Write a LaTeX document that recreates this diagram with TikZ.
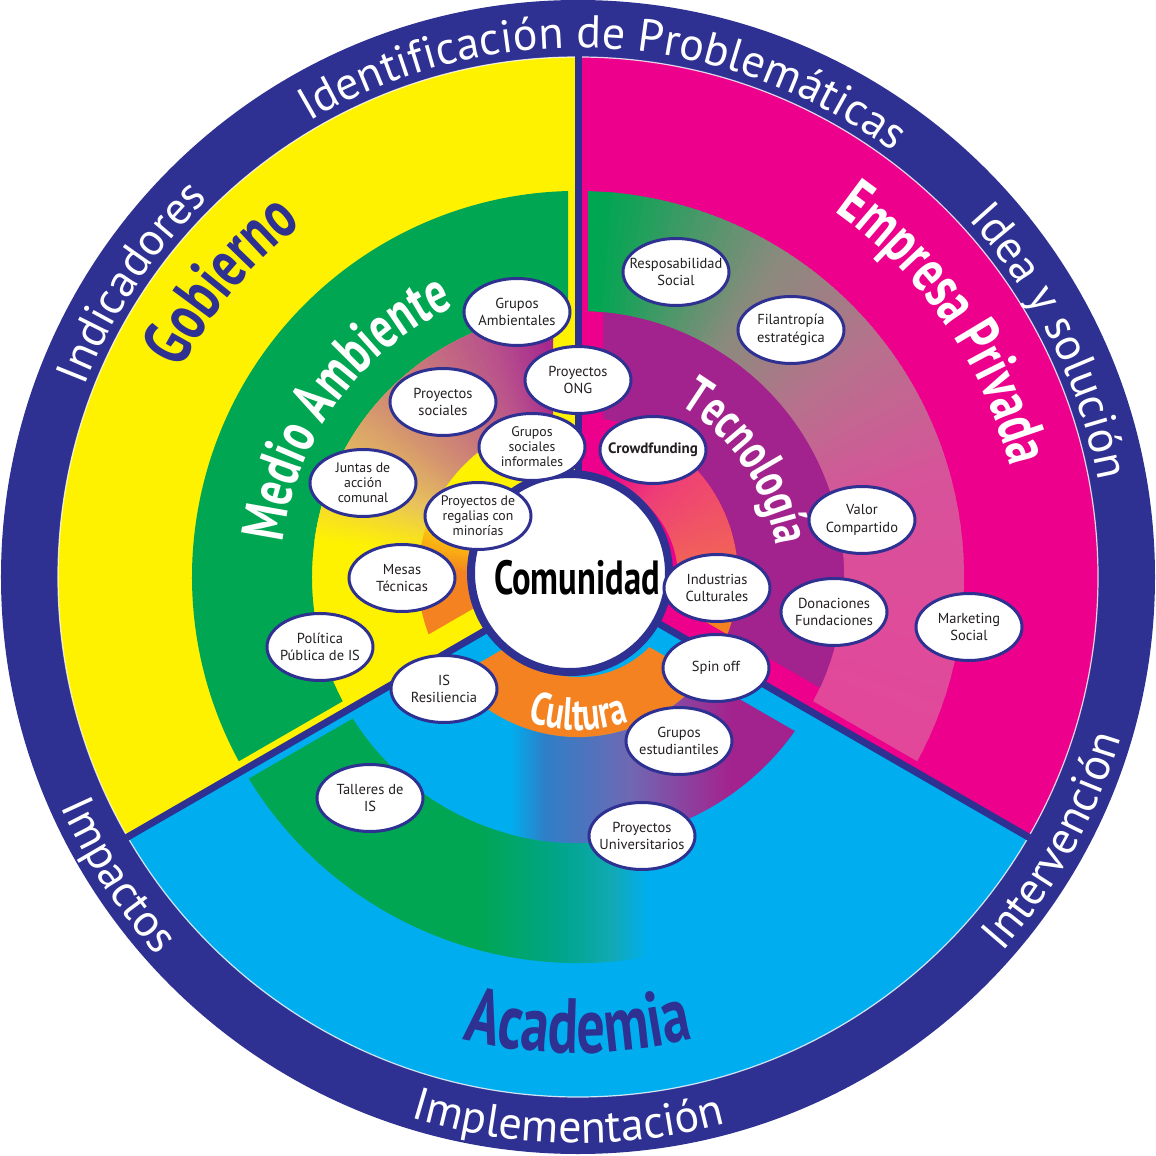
\documentclass[tikz,border=0pt]{standalone}
\usepackage{fontspec}
\setmainfont{PT Sans}
\newfontfamily\titlefont{PT Sans}[FakeStretch=0.72]
\usetikzlibrary{shapes.geometric, decorations.text}

\definecolor{navyring}{HTML}{2E3192}
\definecolor{gobyellow}{HTML}{FFF200}
\definecolor{empmagenta}{HTML}{EC008C}
\definecolor{acacyan}{HTML}{00AEEF}
\definecolor{ambgreen}{HTML}{00A651}
\definecolor{tecpurple}{HTML}{A3238E}
\definecolor{culorange}{HTML}{F58220}
\definecolor{tecmauve}{HTML}{B8508C}
\definecolor{tectan}{HTML}{D4946F}
\definecolor{tecsand}{HTML}{E9C35C}
\definecolor{empgrey}{HTML}{8A8B7D}
\definecolor{emppinkgrey}{HTML}{B7718C}
\definecolor{emppink}{HTML}{D8529A}
\definecolor{emprose}{HTML}{E6449A}
\definecolor{culpink}{HTML}{EE3D78}
\definecolor{culsalmon}{HTML}{F15E5C}
\definecolor{acateal}{HTML}{00A58C}
\definecolor{acaturq}{HTML}{12A9B5}
\definecolor{acablue}{HTML}{2E7FC7}
\definecolor{acaviolet}{HTML}{6F68B3}
\definecolor{bubbleink}{HTML}{231F20}

\newcommand{\ringfmt}{\fontsize{46}{46}\selectfont}
% annular sector: inner radius, outer radius, first angle, last angle
\newcommand{\annulus}[4]{(#3:#2) arc[start angle=#3, end angle=#4, radius=#2] -- (#4:#1) arc[start angle=#4, end angle=#3, radius=#1] -- cycle}
% colour fade along a ring, in thin slices
\newcommand{\ringfade}[6]{%
  \foreach \k in {0,...,23}{%
    \pgfmathsetmacro{\fa}{#3+(#4-#3)*\k/24}%
    \pgfmathsetmacro{\fb}{#3+(#4-#3)*(\k+1.4)/24}%
    \pgfmathsetmacro{\fp}{100-100*(\k+0.5)/24}%
    \fill[#5!\fp!#6] \annulus{#1}{#2}{\fa}{\fb};
  }}
% clip to a sector, kept a gap away from its borders
\newcommand{\sectorclip}[3]{%
  \pgfmathsetmacro{\midang}{(#1+#2)/2}%
  \pgfmathsetmacro{\apexr}{1.1547*#3}%
  \clip[shift={(\midang:\apexr)}] (0,0) -- (#1:1400) -- (#2:1400) -- cycle;}

\tikzset{
bubble/.style={ellipse, draw=navyring, line width=3pt, fill=white, minimum width=106pt, minimum height=67pt, inner sep=-10pt, align=center, text=bubbleink, font=\fontsize{14.5}{17.5}\selectfont}, % white ellipses
small/.style={font=\fontsize{13.8}{15}\selectfont}, % three line ellipses
divider/.style={navyring, line width=7pt}, % borders between the sectors
ringlabel/.style={decorate, decoration={text along path, text align=center, text color=white, text={|\ringfmt|#1}}}, % words in the outer ring
titlelabel/.style n args={3}{decorate, decoration={text along path, text align=center, text color=#1, text={|\titlefont\bfseries\fontsize{#2}{#2}\selectfont|#3}}}, % names of the sectors and rings
}

\begin{document}
\begin{tikzpicture}[x=1pt, y=1pt]
       \useasboundingbox (-578,-579) rectangle (578,577);
       \fill[white] (-578,-579) rectangle (578,577);
       \fill[navyring] (0,0) circle[radius=577];

       % sectors
       \fill[gobyellow] (0,0) -- (90:520) arc[start angle=90, end angle=210, radius=520] -- cycle;
       \fill[empmagenta] (0,0) -- (-30:520) arc[start angle=-30, end angle=90, radius=520] -- cycle;
       \fill[acacyan] (0,0) -- (210:520) arc[start angle=210, end angle=330, radius=520] -- cycle;

       % Gobierno
       \begin{scope}
         \sectorclip{90}{210}{10}
         \fill[ambgreen] \annulus{266}{386}{80}{220};
       \end{scope}
       \begin{scope}
         \sectorclip{90}{210}{25}
         \fill[tecpurple] \annulus{160}{266}{80}{96};
         \ringfade{160}{266}{95}{110}{tecpurple}{tecmauve}
         \ringfade{160}{266}{110}{140}{tecmauve}{tectan}
         \ringfade{160}{266}{140}{156}{tectan}{tecsand}
         \ringfade{160}{266}{156}{172}{tecsand}{gobyellow}
         \ringfade{100}{160}{152}{178}{gobyellow}{culorange}
         \fill[culorange] \annulus{100}{160}{177}{220};
       \end{scope}

       % Empresa Privada
       \begin{scope}
         \sectorclip{-30}{90}{10}
         \fill[ambgreen] \annulus{266}{386}{84}{100};
         \ringfade{266}{386}{86}{58}{ambgreen}{empgrey}
         \ringfade{266}{386}{58}{38}{empgrey}{emppinkgrey}
         \ringfade{266}{386}{38}{15}{emppinkgrey}{emppink}
         \ringfade{266}{386}{15}{-40}{emppink}{emprose}
       \end{scope}
       \begin{scope}
         \sectorclip{-30}{90}{25}
         \fill[tecpurple] \annulus{160}{266}{-40}{100};
         \ringfade{100}{160}{76}{48}{empmagenta}{culpink}
         \ringfade{100}{160}{48}{12}{culpink}{culsalmon}
         \ringfade{100}{160}{12}{-15}{culsalmon}{culorange}
         \fill[culorange] \annulus{100}{160}{-14}{-40};
       \end{scope}

       % Academia
       \begin{scope}
         \sectorclip{210}{330}{10}
         \clip \annulus{266}{386}{200}{340};
         \fill[ambgreen] (-400,-400) rectangle (-100,0);
         \shade[left color=ambgreen, right color=acateal] (-100.5,-400) rectangle (-15,0);
         \shade[left color=acateal, right color=acaturq] (-15.5,-400) rectangle (35,0);
         \shade[left color=acaturq, right color=acacyan] (34.5,-400) rectangle (70,0);
       \end{scope}
       \begin{scope}
         \sectorclip{210}{330}{25}
         \begin{scope}
           \clip \annulus{160}{266}{200}{340};
           \shade[left color=acacyan, right color=acablue] (-68,-300) rectangle (-33,0);
           \shade[left color=acablue, right color=acaviolet] (-33.5,-300) rectangle (52,0);
           \shade[left color=acaviolet, right color=tecpurple] (51.5,-300) rectangle (152,0);
           \fill[tecpurple] (151.5,-300) rectangle (400,0);
         \end{scope}
         \fill[culorange] \annulus{100}{160}{200}{340};
       \end{scope}

       \draw[white, line width=1.2pt, opacity=.8] (0,0) circle[radius=520];
       \draw[divider] (0,0) -- (90:521);
       \draw[divider] (0,0) -- (210:521);
       \draw[divider] (0,0) -- (330:521);

       % outer ring
       \path[ringlabel={Identificación de Problemáticas}] (152:529) arc[start angle=152, end angle=22, radius=529];
       \path[ringlabel={Idea y solución}] (66.5:529) arc[start angle=66.5, end angle=-13.5, radius=529];
       \path[ringlabel={Indicadores}] (186.6:529) arc[start angle=186.6, end angle=106.6, radius=529];
       \path[ringlabel={Intervención}] (291:566) arc[start angle=291, end angle=371, radius=566];
       \path[ringlabel={Implementación}] (229:566) arc[start angle=229, end angle=309, radius=566];
       \path[ringlabel={Impactos}] (173:566) arc[start angle=173, end angle=253, radius=566];

       % names
       \path[titlelabel={navyring}{68}{Gobierno}] (180.3:448) arc[start angle=180.3, end angle=100.3, radius=448];
       \path[titlelabel={white}{62}{Empresa Privada}] (79.6:446) arc[start angle=79.6, end angle=-10.4, radius=446];
       \path[titlelabel={white}{60}{Medio Ambiente}] (199:297) arc[start angle=199, end angle=89, radius=297];
       \path[titlelabel={white}{52}{Tecnología}] (89.2:200) arc[start angle=89.2, end angle=-20.8, radius=200];
       \path[titlelabel={white}{46}{Cultura}] (220:153) arc[start angle=220, end angle=320, radius=153];
       \path[titlelabel={navyring}{78}{Academia}] (240:476) arc[start angle=240, end angle=300, radius=476];

       \node[circle, draw=navyring, line width=8pt, fill=white, minimum size=198pt, inner sep=0pt] (comCircle) at (-8,4) {};
       \node[font=\titlefont\bfseries\fontsize{48}{48}\selectfont, text=black] (comunidad) at (-1,-1) {Comunidad};

       \node[bubble] (gruposAmb) at (-61,265) {Grupos\\Ambientales};
       \node[bubble] (proyONG) at (0,197) {Proyectos\\ONG};
       \node[bubble] (proySoc) at (-135,175) {Proyectos\\sociales};
       \node[bubble, small] (gruposSoc) at (-46,130) {Grupos\\sociales\\informales};
       \node[bubble] (crowd) at (75,127) {\bfseries\fontsize{15}{17}\selectfont Crowdfunding};
       \node[bubble, small] (juntas) at (-215,94) {Juntas de\\acción\\comunal};
       \node[bubble, small] (regalias) at (-100,61) {Proyectos de\\regalias con\\minorías};
       \node[bubble] (mesas) at (-176,-1) {Mesas\\Técnicas};
       \node[bubble] (politica) at (-258,-70) {Política\\Pública de IS};
       \node[bubble] (resiliencia) at (-134,-112) {IS\\Resiliencia};
       \node[bubble] (talleres) at (-208,-221) {Talleres de\\IS};
       \node[bubble] (responsab) at (98,305) {Resposabilidad\\Social};
       \node[bubble] (filantropia) at (213,247) {Filantropía\\estratégica};
       \node[bubble] (valor) at (284,57) {Valor\\Compartido};
       \node[bubble] (industrias) at (139,-11) {Industrias\\Culturales};
       \node[bubble] (donaciones) at (256,-35) {Donaciones\\Fundaciones};
       \node[bubble] (marketing) at (391,-50) {Marketing\\Social};
       \node[bubble] (spinoff) at (138,-91) {Spin off};
       \node[bubble] (gruposEst) at (101,-164) {Grupos\\estudiantiles};
       \node[bubble] (proyUniv) at (64,-259) {Proyectos\\Universitarios};
\end{tikzpicture}
\end{document}
